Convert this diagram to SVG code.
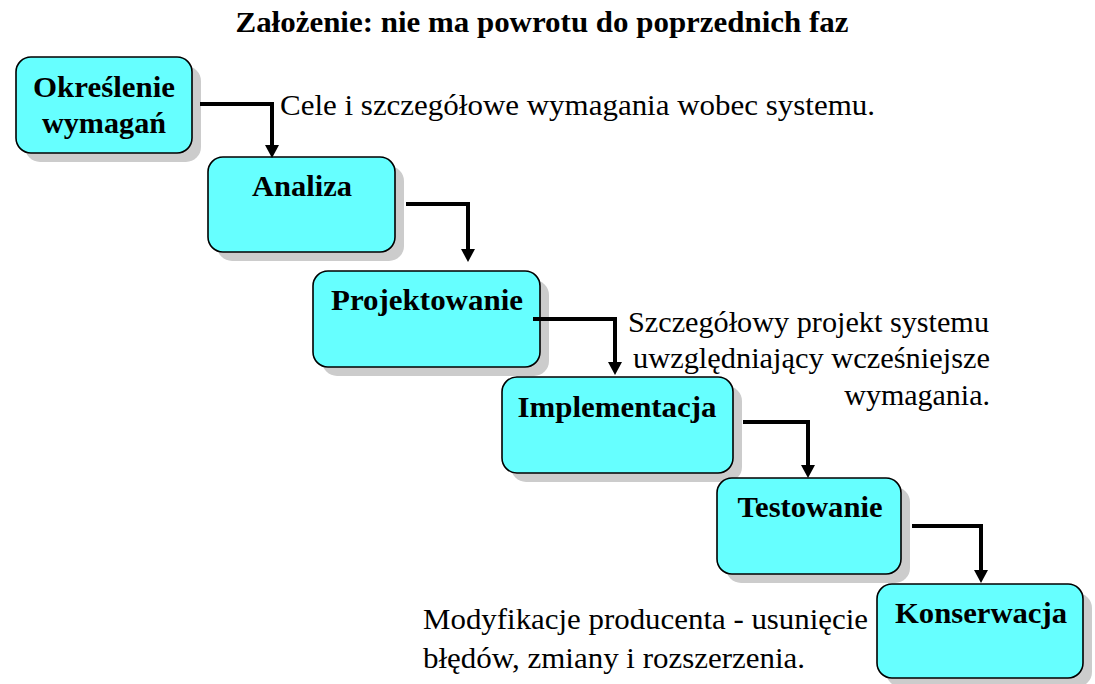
<svg xmlns="http://www.w3.org/2000/svg" width="1095" height="684" viewBox="0 0 1095 684">
<style>
.box{fill:#66ffff;stroke:#000;stroke-width:1.6}
.sh{fill:#cccccc}
.lbl{font-family:"Liberation Serif","Times New Roman",serif;font-weight:bold;font-size:30px;text-anchor:middle;fill:#000}
.note{font-family:"Liberation Serif","Times New Roman",serif;font-size:30px;fill:#000}
.title{font-family:"Liberation Serif","Times New Roman",serif;font-weight:bold;font-size:29px;text-anchor:middle;fill:#000}
.ln{fill:none;stroke:#000;stroke-width:4}
.ah{fill:#000}
</style>
<rect width="1095" height="684" fill="#fff"/>
<text class="title" x="542" y="32" textLength="613" lengthAdjust="spacingAndGlyphs">Założenie: nie ma powrotu do poprzednich faz</text>
<g id="n1">
<rect class="sh" x="25" y="66" width="176" height="96" rx="15"/>
<rect class="box" x="16" y="57" width="176" height="96" rx="15"/>
<text class="lbl" x="104" y="97" textLength="142" lengthAdjust="spacingAndGlyphs">Określenie</text>
<text class="lbl" x="104" y="133" textLength="124" lengthAdjust="spacingAndGlyphs">wymagań</text>
</g>
<g id="n2">
<rect class="sh" x="217" y="166" width="187" height="95" rx="15"/>
<rect class="box" x="208" y="157" width="187" height="95" rx="15"/>
<text class="lbl" x="302" y="196" textLength="100" lengthAdjust="spacingAndGlyphs">Analiza</text>
</g>
<g id="n3">
<rect class="sh" x="322" y="280" width="227" height="96" rx="15"/>
<rect class="box" x="313" y="271" width="227" height="96" rx="15"/>
<text class="lbl" x="427" y="310" textLength="192" lengthAdjust="spacingAndGlyphs">Projektowanie</text>
</g>
<g id="n4">
<rect class="sh" x="511" y="386" width="231" height="96" rx="15"/>
<rect class="box" x="502" y="377" width="231" height="96" rx="15"/>
<text class="lbl" x="617" y="417" textLength="199" lengthAdjust="spacingAndGlyphs">Implementacja</text>
</g>
<g id="n5">
<rect class="sh" x="726" y="487" width="184" height="96" rx="15"/>
<rect class="box" x="717" y="478" width="184" height="96" rx="15"/>
<text class="lbl" x="810" y="517" textLength="145" lengthAdjust="spacingAndGlyphs">Testowanie</text>
</g>
<g id="n6">
<rect class="sh" x="886" y="593" width="206" height="94" rx="15"/>
<rect class="box" x="877" y="584" width="206" height="94" rx="15"/>
<text class="lbl" x="981" y="623" textLength="172" lengthAdjust="spacingAndGlyphs">Konserwacja</text>
</g>
<g id="connectors">
<path class="ln" d="M200,104 H272 V147"/>
<polygon class="ah" points="265,145 279,145 272,158"/>
<path class="ln" d="M406,204 H468 V251"/>
<polygon class="ah" points="461,249 475,249 468,262"/>
<path class="ln" d="M533,319 H615 V364"/>
<polygon class="ah" points="608,362 622,362 615,375"/>
<path class="ln" d="M743,422 H808 V467"/>
<polygon class="ah" points="801,465 815,465 808,478"/>
<path class="ln" d="M912,526 H981 V572"/>
<polygon class="ah" points="974,570 988,570 981,583"/>
</g>
<g id="notes">
<text class="note" x="280" y="115" textLength="595" lengthAdjust="spacingAndGlyphs">Cele i szczegółowe wymagania wobec systemu.</text>
<text class="note" x="628" y="332" textLength="361" lengthAdjust="spacingAndGlyphs">Szczegółowy projekt systemu</text>
<text class="note" x="633" y="368" textLength="357" lengthAdjust="spacingAndGlyphs">uwzględniający wcześniejsze</text>
<text class="note" x="990" y="405" text-anchor="end">wymagania.</text>
<text class="note" x="423" y="629" textLength="445" lengthAdjust="spacingAndGlyphs">Modyfikacje producenta - usunięcie</text>
<text class="note" x="423" y="668" textLength="382" lengthAdjust="spacingAndGlyphs">błędów, zmiany i rozszerzenia.</text>
</g>
</svg>
